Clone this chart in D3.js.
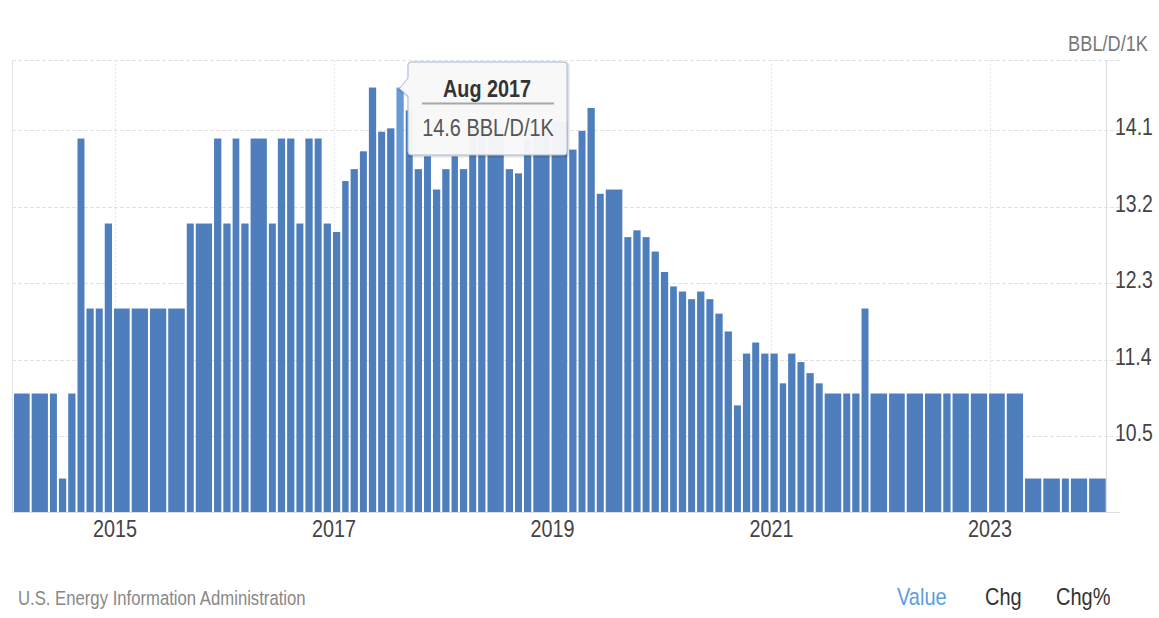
<!DOCTYPE html>
<html>
<head>
<meta charset="utf-8">
<script src="https://cdn.jsdelivr.net/npm/d3@7"></script>
<style>
  body { margin: 0; background: #fff; }
  svg { display: block; font-family: "Liberation Sans", Arial, sans-serif; }
</style>
</head>
<body>
<svg id="chart" width="1159" height="618"></svg>
<script>
// month each bar starts at; a bar runs until the next one starts
var months = [
  "2014-02","2014-04","2014-06","2014-07","2014-08","2014-09","2014-10","2014-11","2014-12",
  "2015-01","2015-03","2015-05","2015-07","2015-09","2015-10","2015-12",
  "2016-01","2016-02","2016-03","2016-04","2016-06","2016-07","2016-08","2016-09","2016-10","2016-11","2016-12",
  "2017-01","2017-02","2017-03","2017-04","2017-05","2017-06","2017-07","2017-08","2017-09","2017-10","2017-11","2017-12",
  "2018-01","2018-02","2018-03","2018-04","2018-05","2018-06","2018-08","2018-09","2018-10","2018-11",
  "2019-01","2019-03","2019-04","2019-05","2019-06","2019-07","2019-09","2019-10","2019-11","2019-12",
  "2020-01","2020-02","2020-03","2020-04","2020-05","2020-06","2020-07","2020-08","2020-09","2020-10","2020-11","2020-12",
  "2021-01","2021-02","2021-03","2021-04","2021-05","2021-06","2021-07","2021-09","2021-10","2021-11","2021-12",
  "2022-02","2022-04","2022-06","2022-08","2022-09","2022-11",
  "2023-01","2023-03","2023-05","2023-07","2023-09","2023-10","2023-12"
];
var values = [
  11.0, 11.0, 11.0, 10.0, 11.0, 14.0, 12.0, 12.0, 13.0,
  12.0, 12.0, 12.0, 12.0, 13.0, 13.0, 14.0,
  13.0, 14.0, 13.0, 14.0, 13.0, 14.0, 14.0, 13.0, 14.0, 14.0, 13.0,
  12.9, 13.5, 13.64, 13.85, 14.6, 14.08, 14.12, 14.6, 14.33, 13.64, 13.79, 13.4,
  13.64, 13.79, 13.64, 14.1, 14.2, 14.1, 13.64, 13.59, 14.0, 14.1,
  14.2, 13.87, 14.09, 14.36, 13.35, 13.4, 12.84, 12.92, 12.84, 12.67,
  12.43, 12.26, 12.2, 12.11, 12.2, 12.11, 11.94, 11.73, 10.86, 11.47, 11.6, 11.47,
  11.47, 11.12, 11.47, 11.37, 11.24, 11.12, 11.0, 11.0, 11.0, 12.0, 11.0,
  11.0, 11.0, 11.0, 11.0, 11.0, 11.0,
  11.0, 11.0, 10.0, 10.0, 10.0, 10.0, 10.0
];
var lastEnd = "2024-02";
var yTicks = [10.5, 11.4, 12.3, 13.2, 14.1];
var xTicks = [2015, 2017, 2019, 2021, 2023];
var unit = "BBL/D/1K";
var hoverMonth = "2017-08";
var source = "U.S. Energy Information Administration";
var tabs = ["Value", "Chg", "Chg%"];

var parse = d3.timeParse("%Y-%m");
var fmt = d3.timeFormat("%b %Y");

var plotL = 12, plotR = 1106, plotT = 60, plotB = 512;
var stretch = 1.2;  // text in the picture is drawn taller than wide

var svg = d3.select("#chart");

var x = d3.scaleTime()
  .domain([new Date(2014, 0, 22), new Date(2024, 0, 23)])
  .range([plotL, plotR]);
var y = d3.scaleLinear()
  .domain([9.606, 14.924])
  .range([plotB, plotT]);

var data = months.map(function(m, i) {
  return {
    start: parse(m),
    end: parse(i < months.length - 1 ? months[i + 1] : lastEnd),
    value: values[i],
    key: m
  };
});

function txt(g, s, px, py, size, opts) {
  opts = opts || {};
  return g.append("text")
    .attr("transform", "translate(" + px + "," + py + ") scale(1," + stretch + ")")
    .attr("text-anchor", opts.anchor || "start")
    .attr("font-size", size)
    .attr("font-weight", opts.weight || "normal")
    .attr("fill", opts.fill || "#333")
    .text(s);
}

// grid
var grid = svg.append("g");
grid.selectAll(".hg")
  .data(yTicks.concat([y.domain()[1]]))
  .enter().append("line")
    .attr("x1", plotL).attr("x2", 1120)
    .attr("y1", function(d) { return Math.round(y(d)) + 0.5; })
    .attr("y2", function(d) { return Math.round(y(d)) + 0.5; })
    .attr("stroke", "#e3e3e3")
    .attr("stroke-dasharray", "4,2");
grid.selectAll(".vg")
  .data(xTicks)
  .enter().append("line")
    .attr("x1", function(d) { return Math.round(x(new Date(d, 0, 1))) + 0.5; })
    .attr("x2", function(d) { return Math.round(x(new Date(d, 0, 1))) + 0.5; })
    .attr("y1", plotT).attr("y2", plotB)
    .attr("stroke", "#e6e6e6")
    .attr("stroke-dasharray", "2,2");
grid.append("line")
  .attr("x1", plotL + 0.5).attr("x2", plotL + 0.5)
  .attr("y1", plotT).attr("y2", plotB)
  .attr("stroke", "#e6e6e6");
grid.append("line")
  .attr("x1", plotR + 0.5).attr("x2", plotR + 0.5)
  .attr("y1", plotT).attr("y2", plotB)
  .attr("stroke", "#dcdcdc");

// bars
svg.append("clipPath").attr("id", "plot")
  .append("rect").attr("x", plotL).attr("y", plotT).attr("width", plotR - plotL).attr("height", plotB - plotT);

svg.append("g")
  .attr("clip-path", "url(#plot)")
  .selectAll("rect")
  .data(data)
  .enter().append("rect")
    .attr("x", function(d) { return x(d.start) - 1; })
    .attr("width", function(d) { return x(d.end) - x(d.start) - 2; })
    .attr("y", function(d) { return y(d.value); })
    .attr("height", function(d) { return plotB - y(d.value); })
    .attr("fill", function(d) { return d.key === hoverMonth ? "#6a9ad6" : "#4e7fbc"; });

grid.append("line")
  .attr("x1", plotL).attr("x2", 1120)
  .attr("y1", plotB + 0.5).attr("y2", plotB + 0.5)
  .attr("stroke", "#e0e0e0");

// axes labels
var labels = svg.append("g");
yTicks.forEach(function(t) {
  txt(labels, t.toFixed(1), 1115, y(t) + 5, 19.5, { fill: "#444" });
});
xTicks.forEach(function(t) {
  txt(labels, String(t), x(new Date(t, 0, 1)), 537, 19.8, { anchor: "middle", fill: "#444" });
});
txt(labels, unit, 1148, 51, 18.2, { anchor: "end", fill: "#777" });

// footer
txt(svg, source, 18, 605, 16.7, { fill: "#888" });
var tabX = [897, 985, 1056];
tabs.forEach(function(t, i) {
  txt(svg, t, tabX[i], 605, 20, { fill: i === 0 ? "#5a9ee0" : "#333" });
});

// tooltip for the hovered bar
var hov = data.filter(function(d) { return d.key === hoverMonth; })[0];
var tip = svg.append("g");
var bx = 408, by = 62, bw = 159, bh = 93;
var tipPath = "M" + (bx + 3) + "," + by +
  " L" + (bx + bw - 3) + "," + by + " Q" + (bx + bw) + "," + by + " " + (bx + bw) + "," + (by + 3) +
  " L" + (bx + bw) + "," + (by + bh - 3) + " Q" + (bx + bw) + "," + (by + bh) + " " + (bx + bw - 3) + "," + (by + bh) +
  " L" + (bx + 3) + "," + (by + bh) + " Q" + bx + "," + (by + bh) + " " + bx + "," + (by + bh - 3) +
  " L" + bx + "," + (by + 34) + " L" + (x(hov.start) + 2) + "," + (y(hov.value) + 1) + " L" + bx + "," + (by + 16) +
  " L" + bx + "," + (by + 3) + " Q" + bx + "," + by + " " + (bx + 3) + "," + by + " Z";
tip.append("path")
  .attr("d", tipPath)
  .attr("transform", "translate(1,1)")
  .attr("fill", "none")
  .attr("stroke", "rgba(0,0,0,0.12)")
  .attr("stroke-width", 3);
tip.append("path")
  .attr("d", tipPath)
  .attr("fill", "rgba(248,248,248,0.96)")
  .attr("stroke", "#a9bcd6")
  .attr("stroke-width", 1);
txt(tip, fmt(hov.start), 487, 96.5, 19.8, { anchor: "middle", weight: "bold", fill: "#333" });
tip.append("line")
  .attr("x1", 422).attr("x2", 554)
  .attr("y1", 103.5).attr("y2", 103.5)
  .attr("stroke", "#a6a6a6")
  .attr("stroke-width", 2);
txt(tip, hov.value.toFixed(1) + " " + unit, 488, 136, 19.9, { anchor: "middle", fill: "#555" });
</script>
</body>
</html>
